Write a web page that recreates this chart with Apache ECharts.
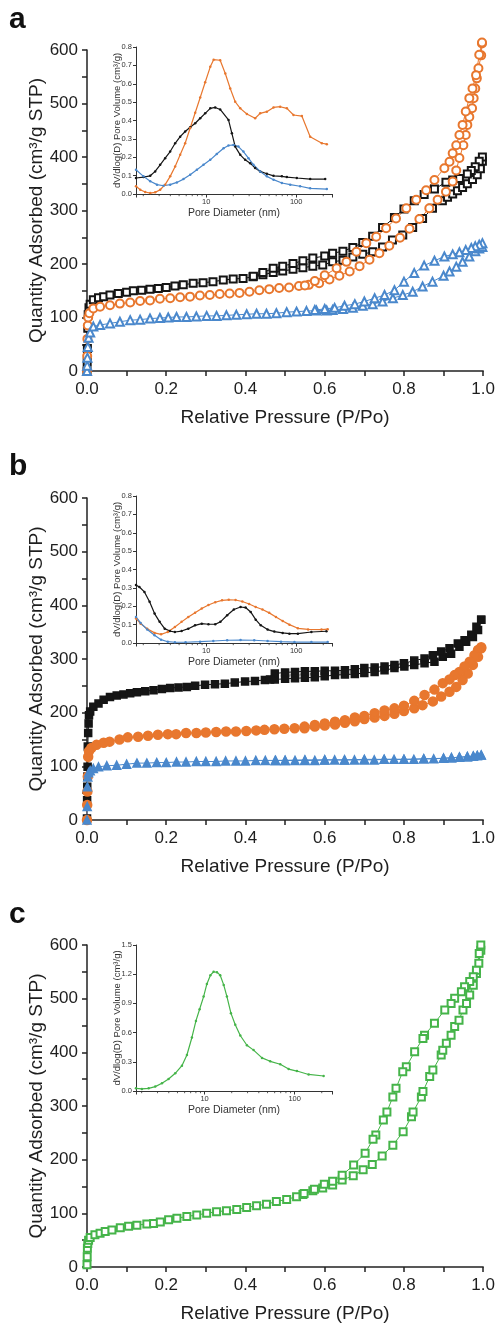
<!DOCTYPE html>
<html lang="en">
<head>
  <meta charset="UTF-8">
  <title>N2 isotherms and pore size distributions</title>
  <style>
    html, body { margin: 0; padding: 0; background: #fff; }
    #chart { width: 498px; height: 1324px; }
  </style>
</head>
<body>
  <div id="chart"></div>

  <script src="https://cdn.jsdelivr.net/npm/echarts@6/dist/echarts.min.js"></script>
  <script>
    const FONT = '"Liberation Sans", Arial, sans-serif'
    const TXT = '#1e1e1e'
    const AX = '#222'
    const BLACK = '#151515'
    const ORANGE = '#e8772e'
    const BLUE = '#4a88cc'
    const GREEN = '#45b449'

    // ---- panel a : isotherms (P/Po, cm3/g STP) ----
    const aBlkAdsP = [0, 0.0005, 0.001, 0.002, 0.003, 0.005, 0.008, 0.016, 0.029, 0.042, 0.058, 0.079, 0.1, 0.117, 0.138, 0.159, 0.18, 0.2, 0.222, 0.243, 0.268, 0.293, 0.318, 0.344, 0.369, 0.394, 0.419, 0.444, 0.47, 0.494, 0.52, 0.545, 0.57, 0.595, 0.62, 0.646, 0.671, 0.696, 0.721, 0.746, 0.771, 0.797, 0.822, 0.847, 0.872, 0.897, 0.91, 0.923, 0.935, 0.948, 0.96, 0.973, 0.985, 0.993, 0.998]
    const aBlkAdsQ = [0, 17, 42, 80, 105, 118, 125, 133, 137, 139, 142, 145, 147, 150, 151, 153, 154, 156, 159, 161, 164, 165, 167, 170, 172, 173, 176, 180, 184, 187, 190, 193, 196, 198, 204, 207, 213, 218, 223, 232, 245, 254, 268, 285, 304, 318, 325, 331, 337, 343, 350, 358, 367, 378, 392]
    const aBlkDesP = [0.998, 0.99, 0.98, 0.97, 0.96, 0.94, 0.923, 0.906, 0.877, 0.851, 0.826, 0.8, 0.776, 0.746, 0.721, 0.696, 0.671, 0.646, 0.62, 0.6, 0.57, 0.545, 0.52, 0.494, 0.47, 0.444, 0.42]
    const aBlkDesQ = [400, 392, 382, 375, 368, 360, 357, 353, 340, 330, 318, 303, 287, 268, 252, 240, 231, 224, 220, 215, 211, 206, 201, 196, 192, 184, 177]

    const aOrgAdsP = [0, 0.0005, 0.001, 0.002, 0.003, 0.006, 0.016, 0.033, 0.058, 0.083, 0.109, 0.134, 0.159, 0.184, 0.21, 0.235, 0.26, 0.285, 0.31, 0.335, 0.36, 0.385, 0.41, 0.435, 0.46, 0.485, 0.51, 0.535, 0.56, 0.586, 0.612, 0.637, 0.663, 0.688, 0.713, 0.738, 0.763, 0.79, 0.814, 0.839, 0.864, 0.885, 0.906, 0.923, 0.932, 0.94, 0.95, 0.956, 0.96, 0.965, 0.972, 0.976, 0.98, 0.984, 0.988, 0.995, 0.997]
    const aOrgAdsQ = [0, 28, 60, 85, 100, 108, 117, 120, 123, 126, 128, 131, 132, 135, 136, 138, 139, 141, 142, 144, 145, 146, 148, 151, 153, 155, 156, 159, 161, 164, 171, 178, 186, 196, 208, 220, 234, 249, 266, 284, 304, 320, 335, 354, 375, 398, 422, 441, 460, 475, 491, 510, 528, 547, 566, 590, 612]
    const aOrgDesP = [0.997, 0.99, 0.982, 0.973, 0.965, 0.956, 0.948, 0.94, 0.932, 0.923, 0.915, 0.902, 0.877, 0.856, 0.831, 0.806, 0.78, 0.755, 0.73, 0.705, 0.68, 0.655, 0.63, 0.6, 0.575, 0.55]
    const aOrgDesQ = [614, 591, 553, 528, 510, 485, 460, 441, 422, 407, 391, 379, 357, 338, 320, 304, 285, 267, 251, 239, 223, 204, 192, 179, 168, 160]

    const aBluAdsP = [0, 0.0005, 0.001, 0.002, 0.004, 0.008, 0.016, 0.033, 0.058, 0.083, 0.109, 0.134, 0.159, 0.184, 0.205, 0.226, 0.251, 0.276, 0.302, 0.327, 0.352, 0.377, 0.403, 0.428, 0.453, 0.478, 0.504, 0.529, 0.554, 0.579, 0.605, 0.62, 0.646, 0.671, 0.696, 0.721, 0.746, 0.772, 0.797, 0.822, 0.847, 0.872, 0.9, 0.915, 0.932, 0.948, 0.965, 0.98, 0.99, 0.998]
    const aBluAdsQ = [0, 10, 25, 45, 62, 72, 83, 86, 89, 92, 95, 96, 98, 99, 100, 101, 101, 102, 103, 103, 104, 105, 106, 107, 107, 108, 110, 111, 112, 113, 113, 114, 116, 118, 122, 125, 130, 136, 142, 148, 158, 167, 178, 186, 195, 204, 214, 224, 229, 232]
    const aBluDesP = [0.998, 0.99, 0.98, 0.97, 0.956, 0.94, 0.923, 0.902, 0.877, 0.851, 0.826, 0.8, 0.776, 0.751, 0.726, 0.7, 0.676, 0.65, 0.625, 0.6, 0.575]
    const aBluDesQ = [239, 236, 233, 230, 226, 222, 218, 214, 206, 197, 183, 167, 151, 142, 136, 130, 125, 122, 118, 116, 114]

    // ---- panel b : isotherms ----
    const bBlkAdsP = [0, 0.0003, 0.0006, 0.001, 0.0015, 0.002, 0.003, 0.004, 0.005, 0.008, 0.016, 0.029, 0.042, 0.058, 0.075, 0.092, 0.109, 0.126, 0.147, 0.168, 0.189, 0.21, 0.231, 0.252, 0.273, 0.298, 0.323, 0.348, 0.373, 0.399, 0.424, 0.449, 0.474, 0.5, 0.525, 0.55, 0.575, 0.6, 0.626, 0.651, 0.676, 0.7, 0.726, 0.751, 0.776, 0.801, 0.826, 0.852, 0.877, 0.898, 0.919, 0.94, 0.957, 0.974, 0.987, 0.995]
    const bBlkAdsQ = [3, 37, 62, 81, 99, 137, 162, 180, 195, 202, 211, 217, 224, 229, 232, 234, 236, 238, 240, 242, 244, 246, 247, 248, 250, 252, 253, 254, 256, 258, 259, 261, 262, 263, 264, 265, 266, 268, 270, 271, 272, 274, 276, 279, 283, 286, 289, 292, 295, 304, 310, 323, 332, 341, 354, 373]
    const bBlkDesP = [0.995, 0.983, 0.97, 0.953, 0.936, 0.915, 0.894, 0.873, 0.852, 0.826, 0.8, 0.776, 0.751, 0.726, 0.7, 0.676, 0.651, 0.626, 0.6, 0.575, 0.55, 0.525, 0.5, 0.474, 0.462]
    const bBlkDesQ = [373, 360, 345, 335, 329, 320, 314, 307, 301, 297, 292, 289, 286, 284, 283, 281, 279, 278, 278, 277, 277, 276, 275, 273, 262]

    const bOrgAdsP = [0, 0.0005, 0.001, 0.002, 0.003, 0.005, 0.011, 0.024, 0.042, 0.057, 0.082, 0.103, 0.129, 0.154, 0.179, 0.204, 0.225, 0.25, 0.276, 0.3, 0.326, 0.351, 0.376, 0.402, 0.427, 0.448, 0.473, 0.498, 0.524, 0.549, 0.575, 0.6, 0.626, 0.651, 0.676, 0.7, 0.726, 0.751, 0.776, 0.8, 0.826, 0.847, 0.873, 0.894, 0.915, 0.932, 0.948, 0.961, 0.974, 0.987, 0.995]
    const bOrgAdsQ = [0, 28, 53, 81, 118, 128, 134, 140, 144, 146, 150, 154, 155, 157, 159, 160, 160, 162, 162, 163, 164, 165, 165, 166, 167, 168, 169, 170, 171, 171, 174, 176, 178, 181, 184, 188, 191, 194, 198, 203, 208, 214, 221, 230, 239, 248, 261, 273, 289, 304, 320]
    const bOrgDesP = [0.995, 0.987, 0.978, 0.966, 0.953, 0.94, 0.928, 0.915, 0.898, 0.877, 0.852, 0.826, 0.8, 0.776, 0.751, 0.726, 0.7, 0.676, 0.651, 0.626, 0.6, 0.575, 0.549]
    const bOrgDesQ = [322, 317, 307, 295, 286, 276, 270, 262, 255, 243, 233, 222, 213, 208, 204, 199, 194, 191, 186, 183, 180, 177, 174]

    const bBluAdsP = [0, 0.0005, 0.001, 0.002, 0.004, 0.008, 0.016, 0.029, 0.05, 0.075, 0.1, 0.126, 0.151, 0.176, 0.2, 0.226, 0.25, 0.276, 0.3, 0.326, 0.35, 0.376, 0.4, 0.426, 0.45, 0.476, 0.5, 0.55, 0.6, 0.65, 0.7, 0.75, 0.8, 0.85, 0.9, 0.92, 0.94, 0.96, 0.975, 0.985, 0.995]
    const bBluAdsQ = [0, 25, 62, 80, 88, 92, 96, 99, 101, 102, 104, 106, 106, 107, 107, 108, 108, 109, 109, 109, 110, 110, 110, 111, 111, 111, 111, 112, 112, 112, 113, 113, 113, 114, 115, 116, 117, 118, 119, 120, 121]
    const bBluDesP = [0.995, 0.985, 0.975, 0.96, 0.94, 0.92, 0.9, 0.875, 0.85, 0.825, 0.8, 0.775, 0.75, 0.725, 0.7, 0.675, 0.65, 0.625, 0.6, 0.575, 0.55, 0.525, 0.5, 0.475]
    const bBluDesQ = [121, 120, 119, 118, 117, 116, 115, 114, 114, 113, 113, 113, 113, 112, 112, 112, 112, 112, 112, 111, 111, 111, 111, 111]

    // ---- panel c : isotherm ----
    const cGrnAdsP = [0, 0.0005, 0.001, 0.002, 0.004, 0.008, 0.02, 0.033, 0.046, 0.063, 0.084, 0.105, 0.126, 0.151, 0.168, 0.185, 0.206, 0.227, 0.252, 0.277, 0.302, 0.327, 0.352, 0.378, 0.403, 0.428, 0.453, 0.478, 0.504, 0.529, 0.545, 0.57, 0.595, 0.62, 0.644, 0.672, 0.697, 0.72, 0.745, 0.772, 0.798, 0.819, 0.823, 0.844, 0.848, 0.865, 0.873, 0.894, 0.898, 0.907, 0.919, 0.928, 0.939, 0.949, 0.958, 0.966, 0.975, 0.983, 0.989, 0.994]
    const cGrnAdsQ = [4, 19, 35, 44, 50, 55, 60, 63, 66, 69, 73, 76, 78, 80, 81, 84, 88, 91, 94, 97, 100, 103, 105, 107, 111, 114, 117, 122, 126, 131, 135, 142, 147, 153, 162, 170, 181, 191, 207, 227, 252, 280, 289, 317, 327, 355, 367, 395, 404, 417, 432, 448, 460, 479, 491, 507, 525, 547, 566, 590]
    const cGrnDesP = [0.994, 0.99, 0.983, 0.975, 0.966, 0.953, 0.945, 0.928, 0.919, 0.903, 0.877, 0.852, 0.848, 0.827, 0.806, 0.797, 0.78, 0.772, 0.757, 0.748, 0.729, 0.722, 0.702, 0.673, 0.644, 0.62, 0.599, 0.574, 0.548]
    const cGrnDesQ = [600, 584, 553, 541, 532, 522, 513, 501, 491, 479, 454, 432, 426, 401, 373, 364, 333, 317, 289, 274, 246, 238, 212, 190, 171, 160, 154, 145, 137]

    // ---- insets : pore size distribution (nm, cm3/g) ----
    const iaBlkD = [1.66, 2.01, 2.39, 2.71, 3.08, 3.5, 3.98, 4.52, 5.14, 5.84, 6.64, 7.55, 8.58, 9.75, 11.1, 12.6, 14.3, 17.7, 19.3, 21, 23.9, 27.1, 30.8, 35, 39.8, 47.2, 56, 69.3, 78.8, 101.6, 143, 210]
    const iaBlkV = [0.087, 0.092, 0.099, 0.123, 0.159, 0.195, 0.231, 0.276, 0.312, 0.34, 0.363, 0.385, 0.412, 0.439, 0.466, 0.471, 0.46, 0.403, 0.33, 0.258, 0.213, 0.186, 0.168, 0.141, 0.123, 0.11, 0.099, 0.096, 0.092, 0.087, 0.081, 0.081]
    const iaOrgD = [1.66, 1.85, 2.1, 2.39, 2.71, 3.08, 3.5, 3.98, 4.52, 5.14, 5.84, 6.64, 7.55, 8.58, 9.75, 11.1, 12.1, 14.3, 16.3, 18.5, 21, 23.9, 28.3, 35, 39.8, 47.2, 56, 66.4, 78.8, 93.4, 115.6, 143, 193, 219]
    const iaOrgV = [0.042, 0.023, 0.011, 0.005, 0.009, 0.023, 0.051, 0.096, 0.15, 0.213, 0.276, 0.359, 0.442, 0.525, 0.608, 0.692, 0.731, 0.728, 0.656, 0.574, 0.502, 0.466, 0.435, 0.412, 0.439, 0.448, 0.471, 0.475, 0.466, 0.43, 0.424, 0.312, 0.276, 0.271]
    const iaBluD = [1.66, 2.01, 2.39, 2.84, 3.36, 3.98, 4.72, 5.6, 6.64, 7.88, 9.34, 11.1, 13.1, 15.6, 17.7, 20.1, 22.8, 25.9, 29.5, 33.5, 39.8, 47.2, 56, 69.3, 85.9, 110.6, 143, 219]
    const iaBluV = [0.132, 0.096, 0.069, 0.051, 0.045, 0.051, 0.063, 0.081, 0.105, 0.132, 0.159, 0.186, 0.218, 0.249, 0.264, 0.267, 0.258, 0.231, 0.195, 0.159, 0.123, 0.096, 0.078, 0.06, 0.051, 0.042, 0.031, 0.027]

    const ibBlkD = [1.66, 1.81, 2.06, 2.35, 2.67, 3.04, 3.46, 3.94, 4.49, 5.33, 6.33, 7.52, 8.93, 10.6, 12.6, 14.4, 17.1, 20.3, 24.1, 27.4, 31.2, 35.5, 40.4, 48.1, 57.1, 70.8, 84.1, 104.4, 147.5, 217]
    const ibBlkV = [0.315, 0.305, 0.278, 0.224, 0.16, 0.115, 0.078, 0.065, 0.06, 0.065, 0.078, 0.096, 0.105, 0.102, 0.102, 0.115, 0.151, 0.182, 0.196, 0.193, 0.169, 0.127, 0.096, 0.073, 0.062, 0.055, 0.051, 0.051, 0.06, 0.064]
    const ibOrgD = [1.66, 1.87, 2.21, 2.67, 3.15, 3.74, 4.49, 5.33, 6.33, 7.52, 8.93, 10.6, 12.6, 15, 17.8, 21.2, 25.2, 30, 35.5, 42.2, 50.1, 59.6, 70.8, 84.1, 104.4, 135.8, 191, 224]
    const ibOrgV = [0.133, 0.105, 0.078, 0.055, 0.047, 0.06, 0.087, 0.115, 0.142, 0.165, 0.188, 0.207, 0.222, 0.232, 0.235, 0.234, 0.226, 0.212, 0.196, 0.182, 0.164, 0.142, 0.12, 0.1, 0.08, 0.074, 0.073, 0.075]
    const ibBluD = [1.66, 1.87, 2.21, 2.67, 3.15, 3.74, 4.49, 5.9, 8.55, 12, 17.1, 24.1, 34.2, 48.1, 67.8, 95.6, 147.5, 224]
    const ibBluV = [0.142, 0.109, 0.073, 0.042, 0.018, 0.007, 0.004, 0.004, 0.007, 0.011, 0.015, 0.016, 0.015, 0.011, 0.007, 0.005, 0.005, 0.005]

    const icGrnD = [1.73, 2.01, 2.39, 2.83, 3.36, 3.98, 4.72, 5.6, 6.36, 7.23, 8.01, 8.8, 9.75, 10.6, 11.6, 12.6, 13.7, 14.9, 16.3, 17.7, 19.6, 21.9, 24.9, 29.5, 35, 43.4, 53.5, 69.2, 85.8, 106, 143, 210]
    const icGrnV = [0.027, 0.021, 0.027, 0.045, 0.079, 0.123, 0.182, 0.26, 0.37, 0.55, 0.72, 0.84, 0.97, 1.1, 1.19, 1.225, 1.22, 1.19, 1.09, 0.97, 0.8, 0.68, 0.57, 0.47, 0.42, 0.34, 0.305, 0.275, 0.225, 0.205, 0.17, 0.154]

    // minor ticks of the log axes
    const logMinor = [2, 3, 4, 5, 6, 7, 8, 9, 20, 30, 40, 50, 60, 70, 80, 90, 200]

    const chart = echarts.init(document.getElementById('chart'))

    const pairs = (xs, ys) => xs.map((x, i) => [x, ys[i]])

    const grids = [
      { left: 87, top: 50, width: 397, height: 321 },
      { left: 87, top: 498, width: 397, height: 322 },
      { left: 87, top: 945, width: 397, height: 322 },
      { left: 136, top: 47, width: 196, height: 147 },
      { left: 136, top: 496, width: 196, height: 147 },
      { left: 136, top: 945, width: 196, height: 146 }
    ]

    function mainX (gi) {
      return {
        type: 'value', gridIndex: gi, min: 0, max: 1, interval: 0.2,
        name: 'Relative Pressure (P/Po)', nameLocation: 'middle', nameGap: 37, nameMoveOverlap: false,
        nameTextStyle: { fontSize: 19, color: TXT, fontFamily: FONT },
        axisLine: { onZero: false, lineStyle: { color: AX, width: 1.5 } },
        axisTick: { length: 5, lineStyle: { color: AX, width: 1.5 } },
        minorTick: { show: true, splitNumber: 2, length: 5, lineStyle: { color: AX, width: 1.5 } },
        splitLine: { show: false },
        axisLabel: { fontSize: 17, color: TXT, fontFamily: FONT, margin: 10, formatter: v => v.toFixed(1) }
      }
    }

    function mainY (gi) {
      return {
        type: 'value', gridIndex: gi, min: 0, max: 600, interval: 100,
        name: 'Quantity Adsorbed (cm³/g STP)', nameLocation: 'middle', nameGap: 41, nameMoveOverlap: false,
        nameTextStyle: { fontSize: 19, color: TXT, fontFamily: FONT },
        axisLine: { show: true, onZero: false, lineStyle: { color: AX, width: 1.5 } },
        axisTick: { show: true, length: 5, lineStyle: { color: AX, width: 1.5 } },
        minorTick: { show: true, splitNumber: 2, length: 5, lineStyle: { color: AX, width: 1.5 } },
        splitLine: { show: false },
        axisLabel: { fontSize: 17, color: TXT, fontFamily: FONT, margin: 9 }
      }
    }

    function insetX (gi, min, max) {
      return {
        type: 'log', logBase: 10, gridIndex: gi, min, max,
        name: 'Pore Diameter (nm)', nameLocation: 'middle', nameGap: 14, nameMoveOverlap: false,
        nameTextStyle: { fontSize: 10.5, color: '#333', fontFamily: FONT },
        axisLine: { onZero: false, lineStyle: { color: '#333', width: 1 } },
        axisTick: { length: 3.5, lineStyle: { color: '#333', width: 1 } },
        splitLine: { show: false },
        axisLabel: {
          fontSize: 7.5, color: '#333', fontFamily: FONT, margin: 4,
          formatter: v => {
            const e = Math.log10(v)
            return Math.abs(e - Math.round(e)) < 1e-6 ? String(Math.round(v)) : ''
          }
        }
      }
    }

    function insetY (gi, max, step) {
      return {
        type: 'value', gridIndex: gi, min: 0, max, interval: step,
        name: 'dV/dlog(D) Pore Volume (cm³/g)', nameLocation: 'middle', nameGap: 14, nameMoveOverlap: false,
        nameTextStyle: { fontSize: 9.5, color: '#333', fontFamily: FONT },
        axisLine: { show: true, onZero: false, lineStyle: { color: '#333', width: 1 } },
        axisTick: { show: true, length: 3, lineStyle: { color: '#333', width: 1 } },
        splitLine: { show: false },
        axisLabel: { fontSize: 7.5, color: '#333', fontFamily: FONT, margin: 4, formatter: v => v.toFixed(1) }
      }
    }

    function iso (gi, xs, ys, symbol, size, color) {
      return {
        type: 'line', xAxisIndex: gi, yAxisIndex: gi, data: pairs(xs, ys),
        symbol, symbolSize: size, showAllSymbol: true, clip: false,
        lineStyle: { color, width: 1 },
        itemStyle: { color, borderColor: color, borderWidth: 1.5 },
        emphasis: { disabled: true }, z: 3
      }
    }

    function psd (gi, xs, ys, color) {
      return {
        type: 'line', xAxisIndex: gi, yAxisIndex: gi, data: pairs(xs, ys),
        symbol: 'circle', symbolSize: 2.5, showAllSymbol: true, clip: false,
        lineStyle: { color, width: 1.2 },
        itemStyle: { color },
        emphasis: { disabled: true }, z: 4
      }
    }

    function minorTicks (gi) {
      return {
        type: 'custom', xAxisIndex: gi, yAxisIndex: gi, silent: true, z: 5,
        data: logMinor.map(d => [d, 0]),
        renderItem: (params, api) => {
          const p = api.coord([api.value(0), api.value(1)])
          return {
            type: 'line',
            shape: { x1: p[0], y1: p[1], x2: p[0], y2: p[1] + 2.2 },
            style: { stroke: '#333', lineWidth: 0.8 }
          }
        }
      }
    }

    const panelLabel = (text, top) => ({
      type: 'text', left: 9, top,
      style: { text, font: 'bold 30px "Liberation Sans", Arial, sans-serif', fill: '#111' }
    })

    chart.setOption({
      animation: false,
      backgroundColor: '#fff',
      textStyle: { fontFamily: FONT },
      grid: grids,
      xAxis: [mainX(0), mainX(1), mainX(2), insetX(3, 1.66, 250), insetX(4, 1.66, 250), insetX(5, 1.73, 260)],
      yAxis: [mainY(0), mainY(1), mainY(2), insetY(3, 0.8, 0.1), insetY(4, 0.8, 0.1), insetY(5, 1.5, 0.3)],
      graphic: [panelLabel('a', 5), panelLabel('b', 452), panelLabel('c', 900)],
      series: [
        iso(0, aBlkAdsP, aBlkAdsQ, 'emptyRect', 7, BLACK),
        iso(0, aBlkDesP, aBlkDesQ, 'emptyRect', 7, BLACK),
        iso(0, aOrgAdsP, aOrgAdsQ, 'emptyCircle', 8, ORANGE),
        iso(0, aOrgDesP, aOrgDesQ, 'emptyCircle', 8, ORANGE),
        iso(0, aBluAdsP, aBluAdsQ, 'emptyTriangle', 8, BLUE),
        iso(0, aBluDesP, aBluDesQ, 'emptyTriangle', 8, BLUE),

        iso(1, bBlkAdsP, bBlkAdsQ, 'rect', 7, BLACK),
        iso(1, bBlkDesP, bBlkDesQ, 'rect', 7, BLACK),
        iso(1, bOrgAdsP, bOrgAdsQ, 'circle', 9, ORANGE),
        iso(1, bOrgDesP, bOrgDesQ, 'circle', 9, ORANGE),
        iso(1, bBluAdsP, bBluAdsQ, 'triangle', 8, BLUE),
        iso(1, bBluDesP, bBluDesQ, 'triangle', 8, BLUE),

        iso(2, cGrnAdsP, cGrnAdsQ, 'emptyRect', 7, GREEN),
        iso(2, cGrnDesP, cGrnDesQ, 'emptyRect', 7, GREEN),

        psd(3, iaBlkD, iaBlkV, BLACK),
        psd(3, iaOrgD, iaOrgV, ORANGE),
        psd(3, iaBluD, iaBluV, BLUE),
        psd(4, ibBlkD, ibBlkV, BLACK),
        psd(4, ibOrgD, ibOrgV, ORANGE),
        psd(4, ibBluD, ibBluV, BLUE),
        psd(5, icGrnD, icGrnV, GREEN),

        minorTicks(3),
        minorTicks(4),
        minorTicks(5)
      ]
    })
  </script>
</body>
</html>
